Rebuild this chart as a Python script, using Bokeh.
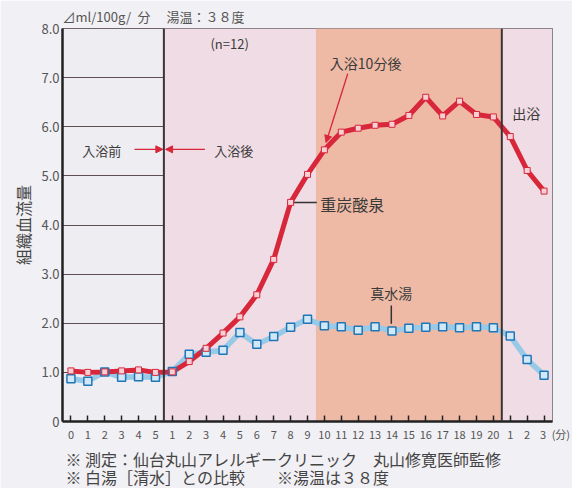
from bokeh.plotting import figure
from bokeh.models import (Range1d, FixedTicker, BoxAnnotation, Span, Label,
                          Arrow, NormalHead, ColumnDataSource, Title)
from bokeh.embed import file_html
from bokeh.resources import INLINE

# ---- data ----
x_labels = ["0", "1", "2", "3", "4", "5",
            "1", "2", "3", "4", "5", "6", "7", "8", "9", "10",
            "11", "12", "13", "14", "15", "16", "17", "18", "19", "20",
            "1", "2", "3"]
tansan = [1.03, 1.00, 1.01, 1.03, 1.05, 1.00,
          1.01, 1.22, 1.49, 1.80, 2.13, 2.58, 3.30, 4.46, 5.03, 5.53,
          5.89, 5.97, 6.03, 6.05, 6.23, 6.60, 6.22, 6.52, 6.25, 6.20,
          5.80, 5.11, 4.69]
mamizu = [0.87, 0.82, 1.01, 0.90, 0.91, 0.90,
          1.02, 1.37, 1.41, 1.45, 1.81, 1.57, 1.73, 1.92, 2.08, 1.95,
          1.93, 1.86, 1.93, 1.84, 1.90, 1.92, 1.93, 1.91, 1.93, 1.91,
          1.74, 1.26, 0.94]
y_ticks = [0, 1, 2, 3, 4, 5, 6, 7, 8]
y_tick_labels = ["0", "1.0", "2.0", "3.0", "4.0", "5.0", "6.0", "7.0", "8.0"]
y_title = "組織血流量"
unit_label = "(分)"
header = "⊿ml/100g/\u2002分\u3000 湯温：３８度"
notes = ["※ 測定：仙台丸山アレルギークリニック\u3000丸山修寛医師監修",
         "※ 白湯［清水］との比較\u3000\u3000※湯温は３８度"]

xs = list(range(len(x_labels)))
src = ColumnDataSource(dict(x=xs, red=tansan, blue=mamizu))

# last tick label carries the unit; left padding keeps "3" centred on its tick
tick_text = {i: s for i, s in enumerate(x_labels)}
tick_text[xs[-1]] = "\u3000\u3000" + x_labels[-1] + "\u2002" + unit_label

JP = "Noto Sans CJK JP"

p = figure(width=572, height=488,
           min_border_left=62, min_border_right=20,
           min_border_top=28, min_border_bottom=64,
           x_range=Range1d(-0.5, 28.5), y_range=Range1d(0, 8),
           output_backend="svg", toolbar_location=None,
           background_fill_color="#eeedf1", border_fill_color="#f1f0f4",
           outline_line_color="#6d6468", outline_line_width=1)

# header / footer / vertical axis title as titles
p.add_layout(Title(text=header, align="left", offset=0, standoff=5,
                   text_font=JP, text_font_size="13px", text_font_style="normal",
                   text_color="#555555"), "above")
p.add_layout(Title(text=notes[0] + "\n" + notes[1], align="left", offset=3, standoff=0,
                   text_font=JP, text_font_size="16px", text_font_style="normal",
                   text_line_height=0.75, text_color="#444444"), "below")
p.add_layout(Title(text=y_title, align="center", offset=-12, standoff=8,
                   text_font=JP, text_font_size="16px", text_font_style="normal",
                   text_color="#444444"), "left")

# background bands
p.add_layout(BoxAnnotation(left=5.5, right=28.5, fill_color="#f0dce4",
                           fill_alpha=1, line_alpha=0, level="underlay"))
p.add_layout(BoxAnnotation(left=14.5, right=25.5, fill_color="#eebaa6",
                           fill_alpha=1, line_alpha=0, level="underlay"))

# axes
p.xaxis.ticker = FixedTicker(ticks=xs)
p.xaxis.major_label_overrides = tick_text
p.xaxis.major_label_text_font = JP
p.xaxis.major_label_text_font_size = "11px"
p.xaxis.major_label_text_color = "#555555"
p.xaxis.major_label_standoff = 4
p.xaxis.major_tick_in = 6
p.xaxis.major_tick_out = 0
p.xaxis.major_tick_line_width = 1.5
p.xaxis.major_tick_line_color = "#222222"
p.xaxis.minor_tick_line_color = None
p.xaxis.axis_line_width = 2.5
p.xaxis.axis_line_color = "#222222"

p.yaxis.ticker = FixedTicker(ticks=y_ticks)
p.yaxis.major_label_overrides = {t: s for t, s in zip(y_ticks, y_tick_labels)}
p.yaxis.major_label_text_font = JP
p.yaxis.major_label_text_font_size = "13px"
p.yaxis.major_label_text_color = "#555555"
p.yaxis.major_label_standoff = 3
p.yaxis.major_tick_in = 0
p.yaxis.major_tick_out = 0
p.yaxis.minor_tick_line_color = None
p.yaxis.axis_line_width = 2.5
p.yaxis.axis_line_color = "#222222"

p.xgrid.grid_line_color = None
p.ygrid.ticker = FixedTicker(ticks=[1, 2, 3, 4, 5, 6, 7])
p.ygrid.grid_line_color = "#5e4e52"
p.ygrid.grid_line_width = 1
p.ygrid.level = "underlay"

# phase separators
for loc in (5.5, 25.5):
    p.add_layout(Span(location=loc, dimension="height",
                      line_color="#3a3436", line_width=2))

# series
p.line("x", "blue", source=src, line_color="#98c9e7", line_width=5.5)
p.line("x", "red", source=src, line_color="#d8263a", line_width=5)
p.scatter("x", "blue", source=src, marker="square", size=8,
          fill_color="#d3e8f6", line_color="#1f76b6", line_width=1.5)
p.scatter("x", "red", source=src, marker="square", size=6,
          fill_color="#f7d0d6", line_color="#d8263a", line_width=1)

# annotations inside the frame
def lab(x, y, t, size="14px", align="center", color="#3a3a3a"):
    p.add_layout(Label(x=x, y=y, text=t, text_font=JP, text_font_size=size,
                       text_align=align, text_baseline="middle", text_color=color))

lab(9.39, 7.70, "(n=12)", "13px")
lab(17.44, 7.29, "入浴10分後", "14px")
lab(26.95, 6.29, "出浴", "14px")
lab(1.82, 5.52, "入浴前", "13px")
lab(9.63, 5.52, "入浴後", "13px")
lab(14.75, 4.42, "重炭酸泉", "16px", align="left")
lab(18.96, 2.61, "真水湯", "14px")

def red_head():
    return NormalHead(size=7, fill_color="#d8263a", line_color="#d8263a")

p.add_layout(Arrow(end=red_head(), x_start=16.38, y_start=7.08, x_end=15.1, y_end=5.68,
                   line_color="#d8263a", line_width=1.3))
p.add_layout(Arrow(end=red_head(), x_start=3.76, y_start=5.54, x_end=5.44, y_end=5.54,
                   line_color="#d8263a", line_width=1.3))
p.add_layout(Arrow(end=red_head(), x_start=7.93, y_start=5.54, x_end=5.6, y_end=5.54,
                   line_color="#d8263a", line_width=1.3))
p.line([13.2, 14.55], [4.46, 4.46], line_color="#333333", line_width=1.5)
p.line([18.96, 18.96], [2.36, 1.99], line_color="#333333", line_width=1.5)

open("out.html", "w").write(file_html(p, INLINE))
